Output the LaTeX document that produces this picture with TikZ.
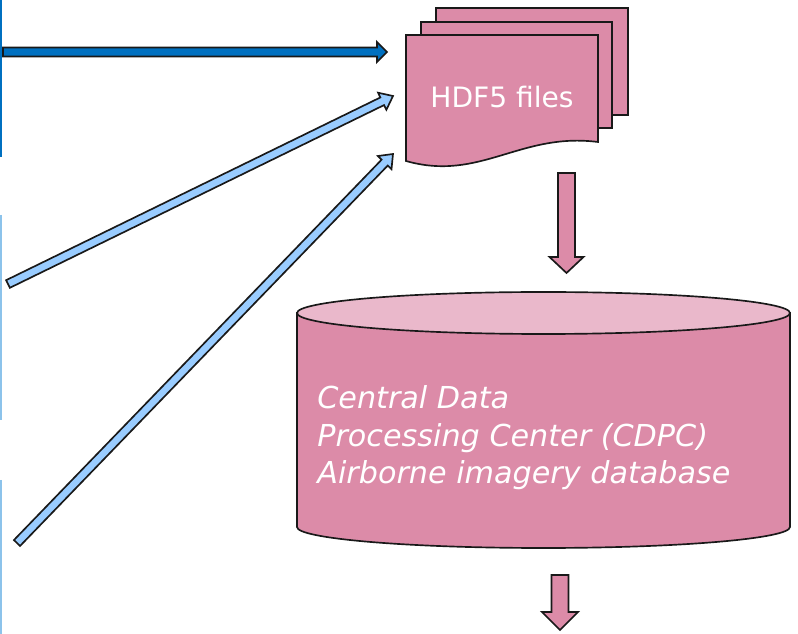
\documentclass[tikz,border=0pt]{standalone}
\usepackage{fontspec}
\setmainfont{DejaVu Sans}
\usetikzlibrary{calc}

\definecolor{pinkbody}{RGB}{220,139,168}
\definecolor{pinktop}{RGB}{234,184,203}
\definecolor{darkblue}{RGB}{0,112,192}
\definecolor{lightblue}{RGB}{153,204,255}
\definecolor{edgeblue}{RGB}{140,195,235}

\tikzset{
	outline/.style={draw=black!90, line width=0.95pt, line join=miter},
	sheet/.style={outline, fill=pinkbody},
	edgeline/.style={line width=0.04cm},
	filestext/.style={text=white, inner sep=0pt, font=\fontsize{16pt}{19pt}\selectfont},
	dbtext/.style={text=white, inner sep=0pt, align=left,
		font=\itshape\fontsize{17.2pt}{21.3pt}\selectfont},
}

% block arrow: style, from, to, shaft half width, head half width, head length
\newcommand{\blockarrow}[6]{%
	\coordinate (ba-h) at ($ (#3)!#6!(#2) $);
	\filldraw[outline, #1]
		($ (#2)!#4!90:(#3) $) -- ($ (ba-h)!#4!90:(#3) $) -- ($ (ba-h)!#5!90:(#3) $)
		-- (#3)
		-- ($ (ba-h)!#5!-90:(#3) $) -- ($ (ba-h)!#4!-90:(#3) $) -- ($ (#2)!#4!-90:(#3) $)
		-- cycle;
}

\begin{document}
\begin{tikzpicture}[x=0.02cm, y=-0.02cm]

	\useasboundingbox (0,0) rectangle (798,634);

	% ---- coordinates

	\coordinate (in1) at (3,52);
	\coordinate (in2) at (8,284);
	\coordinate (in3) at (17,543);

	\coordinate (tip1) at (387,52);
	\coordinate (tip2) at (393,96);
	\coordinate (tip3) at (393,154);

	\coordinate (out1) at (566.5,173);
	\coordinate (db) at (566.5,273);
	\coordinate (out2) at (560,575);
	\coordinate (next) at (560,630);

	% ---- cut boxes at the left border

	\draw[edgeline, darkblue] (1,0) -- (1,157);
	\draw[edgeline, edgeblue] (1,215) -- (1,420);
	\draw[edgeline, edgeblue] (1,480) -- (1,634);

	% ---- file stack

	\filldraw[sheet] (436,8) rectangle (628,115);
	\filldraw[sheet] (421,22) rectangle (612,128);
	\filldraw[sheet] (406,35) -- (598,35) -- (598,142)
		.. controls (520,132) and (480,182) .. (406,161) -- cycle;

	\node[filestext] (files) at (502,97) {HDF5 files};

	% ---- database

	\filldraw[outline, fill=pinkbody] (297,313) -- (297,527)
		arc[start angle=180, end angle=0, x radius=246.5, y radius=21] -- (790,313) -- cycle;
	\filldraw[outline, fill=pinktop] (543.5,313) ellipse[x radius=246.5, y radius=21];

	\node[dbtext, anchor=west] (cdpc) at (317,438)
		{Central Data\\Processing Center (CDPC)\\Airborne imagery database};

	% ---- arrows

	\blockarrow{fill=darkblue}{in1}{tip1}{0.09cm}{0.2cm}{0.2cm}
	\blockarrow{fill=lightblue}{in2}{tip2}{0.085cm}{0.19cm}{0.24cm}
	\blockarrow{fill=lightblue}{in3}{tip3}{0.085cm}{0.19cm}{0.24cm}

	\blockarrow{fill=pinkbody}{out1}{db}{0.17cm}{0.34cm}{0.32cm}
	\blockarrow{fill=pinkbody}{out2}{next}{0.17cm}{0.36cm}{0.36cm}

\end{tikzpicture}
\end{document}
